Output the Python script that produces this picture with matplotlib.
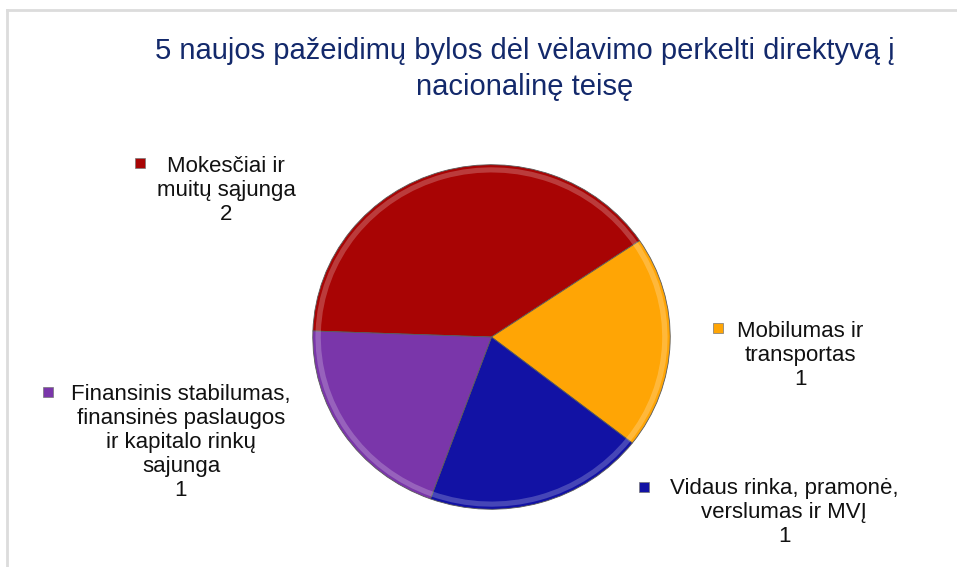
import matplotlib
matplotlib.use("Agg")
import matplotlib.pyplot as plt
from matplotlib.patches import Rectangle
from matplotlib.lines import Line2D

plt.rcParams['font.family'] = ['Liberation Sans', 'DejaVu Sans']

# duomenys
title = "5 naujos pažeidimų bylos dėl vėlavimo perkelti direktyvą į\nnacionalinę teisę"
labels = ["Mokesčiai ir\nmuitų sąjunga",
          "Mobilumas ir\ntransportas",
          "Vidaus rinka, pramonė,\nverslumas ir MVĮ",
          "Finansinis stabilumas,\nfinansinės paslaugos\nir kapitalo rinkų\nsajunga"]
values = [2, 1, 1, 1]
colors = ["#A80404", "#FFA505", "#1212A4", "#7A36AA"]

W, H = 957, 567
fig = plt.figure(figsize=(W / 100, H / 100), dpi=100)

def fx(x):
    return x / W

def fy(y):
    return 1 - y / H

# rėmelis (tik viršus ir kairė matosi)
fig.add_artist(Line2D([fx(7), fx(7)], [fy(10), 0], color="#DCDCDC", lw=2))
fig.add_artist(Line2D([fx(7), 1], [fy(10), fy(10)], color="#DCDCDC", lw=2))

fig.text(fx(525), fy(69), title, ha="center", va="center",
         fontsize=21, color="#13296B", linespacing=1.32)

# pyragas
ax = fig.add_axes([fx(311), fy(511), fx(672) - fx(311), (511 - 163) / H])
wedges, _ = ax.pie(values, colors=colors, startangle=178, counterclock=False,
                   wedgeprops=dict(edgecolor="#5a5a5a", linewidth=0.6))
# šviesesnis kraštas (imituoja 3D nuožulną)
rim, _ = ax.pie(values, colors=colors, startangle=178, counterclock=False, radius=0.985,
                wedgeprops=dict(width=0.03, linewidth=0))
for r in rim:
    r.set_facecolor((1, 1, 1, 0.22))
ax.set_aspect("auto")
ax.set_xlim(-1.01, 1.01)
ax.set_ylim(-1.01, 1.01)

# etiketės: (centras x, pirmos eilutės y, žymeklio x, žymeklio y)
lab_pos = [(226, 165, 140, 163),
           (800, 330, 718, 328),
           (784, 487, 644, 487),
           (181, 393, 48, 392)]
for lab, v, c, (tx, ty, mx, my) in zip(labels, values, colors, lab_pos):
    fig.text(fx(tx), fy(ty - 9), lab + "\n" + str(v), ha="center", va="top",
             fontsize=16, color="#111111", linespacing=1.19)
    fig.add_artist(Rectangle((fx(mx - 5), fy(my + 5)), 10 / W, 10 / H,
                             facecolor=c, edgecolor="#777777", lw=0.5))

fig.savefig("out.png", dpi=100)
